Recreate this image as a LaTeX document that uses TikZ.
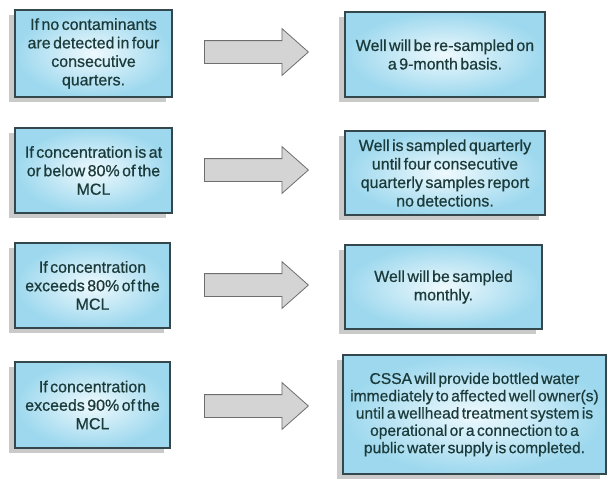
\documentclass[tikz,border=0pt]{standalone}
\usepackage{fontspec}
\setmainfont{Liberation Sans}[WordSpace=0.55, FakeBold=0.6]
\usetikzlibrary{shapes.arrows,shadows}
\definecolor{boxfill}{HTML}{9DD8EE}
\definecolor{boxin}{HTML}{EEF9FD}
\definecolor{boxline}{HTML}{34474D}
\definecolor{txt}{HTML}{1B3A3A}
\definecolor{arrfill}{HTML}{D4D4D4}
\definecolor{arrline}{HTML}{6E6E6E}
\definecolor{shade}{HTML}{BDBDBD}
\tikzset{
  infobox/.style={draw=boxline, line width=1.1pt, inner color=boxin, outer color=boxfill,
    align=center, text=txt, font=\fontsize{16}{18.5}\selectfont,
    inner sep=0pt,
    drop shadow={shadow xshift=-6pt, shadow yshift=-5pt, fill=shade, opacity=0.8}},
  bigarrow/.style={single arrow, draw=arrline, line width=0.8pt, fill=arrfill,
    single arrow head extend=12pt, single arrow tip angle=83, single arrow head indent=0pt,
    minimum height=104pt, inner ysep=11pt, inner xsep=0pt, text height=0pt, text depth=0pt,
    anchor=tail}
}
\begin{document}
\begin{tikzpicture}[x=1pt,y=-1pt]
\useasboundingbox[fill=white] (0,0) rectangle (608,480);
% left column
\node[infobox, minimum width=157pt, minimum height=87pt] (l1) at (93.5,53.5)
  {If no contaminants\\are detected in four\\consecutive\\quarters.};
\node[infobox, minimum width=157pt, minimum height=85pt] (l2) at (93.5,170.5)
  {If concentration is at\\or below 80\% of the\\MCL};
\node[infobox, minimum width=155pt, minimum height=85pt] (l3) at (92.5,285.5)
  {If concentration\\exceeds 80\% of the\\MCL};
\node[infobox, minimum width=155pt, minimum height=86pt] (l4) at (92.5,405)
  {If concentration\\exceeds 90\% of the\\MCL};
% arrows
\node[bigarrow] (a1) at (204,52) {};
\node[bigarrow] (a2) at (204,170) {};
\node[bigarrow] (a3) at (204,285) {};
\node[bigarrow] (a4) at (204,406) {};
% right column
\node[infobox, minimum width=200pt, minimum height=85pt] (r1) at (445,54.5)
  {Well will be re-sampled on\\a 9-month basis.};
\node[infobox, minimum width=200pt, minimum height=84pt] (r2) at (445,173)
  {Well is sampled quarterly\\until four consecutive\\quarterly samples report\\no detections.};
\node[infobox, minimum width=197pt, minimum height=84pt] (r3) at (443.5,287)
  {Well will be sampled\\monthly.};
\node[infobox, minimum width=263pt, minimum height=119pt, font=\fontsize{15.6}{17.3}\selectfont] (r4) at (474.5,414.5)
  {CSSA will provide bottled water\\immediately to affected well owner(s)\\until a wellhead treatment system is\\operational or a connection to a\\public water supply is completed.};
\end{tikzpicture}
\end{document}
